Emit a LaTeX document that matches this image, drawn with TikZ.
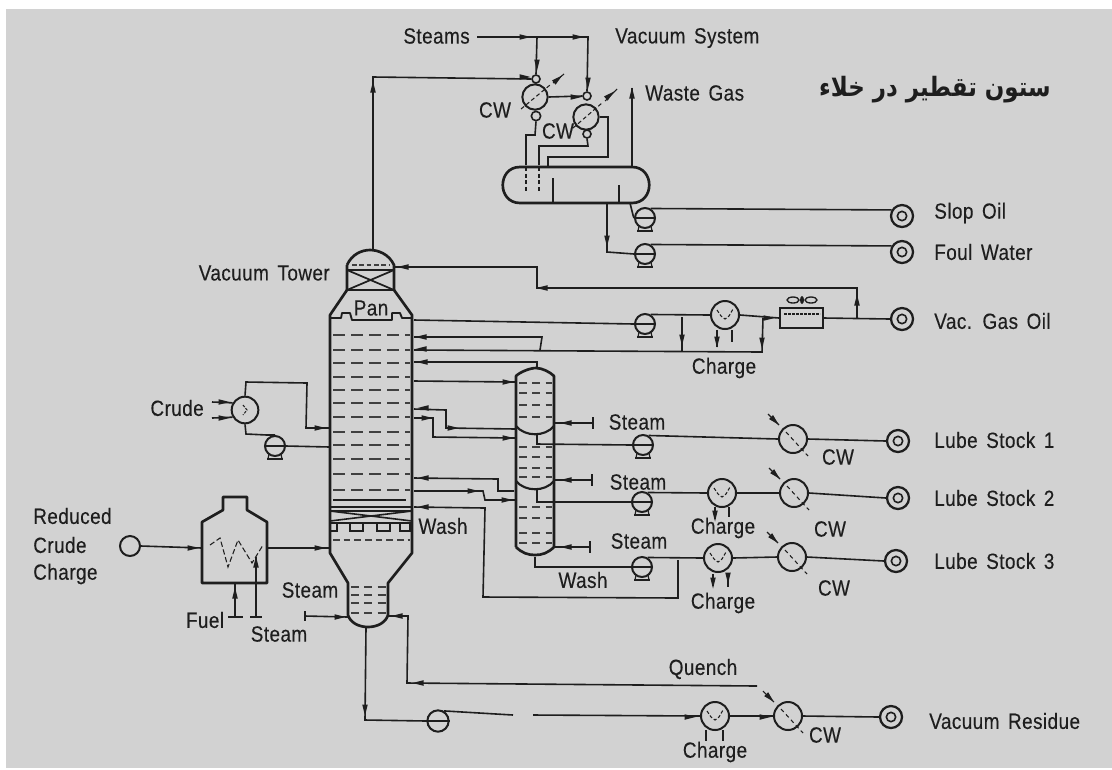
\documentclass[tikz,border=0pt]{standalone}
\usepackage{fontspec}
\setmainfont{Liberation Sans}[FakeStretch=.86,LetterSpace=2,WordSpace=1.5,FakeBold=.25]
\newfontfamily\arabicfont[Script=Arabic,FakeStretch=.86]{DejaVu Sans}
\TeXXeTstate=1
\usetikzlibrary{calc}
\definecolor{ink}{HTML}{1E1E1E}
\definecolor{paper}{HTML}{D2D2D2}
\tikzset{
 pipe/.style={draw=ink,line width=1.2pt},
 vessel/.style={draw=ink,line width=2pt,line join=round},
 tray/.style={draw=ink!85,line width=1.1pt,dash pattern=on 9pt off 4.5pt},
 lbl/.style={text=ink,font=\fontsize{16.5}{18}\selectfont,inner sep=0pt},
 pumpn/.style={circle,draw=ink,line width=1.5pt,minimum size=15pt,inner sep=0pt},
 hxn/.style={circle,draw=ink,line width=1.5pt,minimum size=21pt,inner sep=0pt},
 smalln/.style={circle,draw=ink,line width=1.2pt,minimum size=6pt,inner sep=0pt},
 tgt/.style={circle,draw=ink,line width=1.7pt,minimum size=16.5pt,inner sep=0pt},
 tgti/.style={circle,draw=ink,line width=1.2pt,minimum size=7pt,inner sep=0pt},
 ah/.pic={\fill[ink] (-5.5,-2.8)--(5.5,0)--(-5.5,2.8)--cycle;},
}
\newcommand\pump[3]{%
 \node[pumpn] (#1) at (#2,#3) {};
 \draw[ink,line width=1.7pt] (#1.west)--(#1.east);
 \draw[ink,line width=2pt] ($(#1.center)+(-8,13)$)--($(#1.center)+(8,13)$);
 \draw[ink,line width=.9pt] ($(#1.center)+(-6,8)$)--($(#1.center)+(-7,13)$) ($(#1.center)+(6,8)$)--($(#1.center)+(7,13)$);}
\newcommand\target[3]{%
 \node[tgt] (#1) at (#2,#3) {};
 \node[tgti] (#1i) at (#2,#3) {};}
\newcommand\cooler[3]{%
 \node[hxn] (#1) at (#2,#3) {};
 \draw[ink,line width=.8pt,dash pattern=on 3pt off 2.5pt] ($(#1.center)+(-7,-7)$)--($(#1.center)+(15,17)$);
 \draw[ink,line width=.8pt] ($(#1.center)+(-25,-25)$)--($(#1.center)+(-14,-14)$);
 \pic[rotate=-45] at ($(#1.center)+(-18,-18)$) {ah};}
\newcommand\heatex[3]{%
 \node[hxn] (#1) at (#2,#3) {};
 \draw[ink,line width=.8pt,dash pattern=on 2.5pt off 1.5pt] ($(#1.center)+(-8,-5)$)--++(4,6)--++(4,3)--++(4,-3)--++(4,-7);}
\begin{document}
\begin{tikzpicture}[x=.75pt,y=-.75pt]
\useasboundingbox (0,0) rectangle (1112,769);
\fill[white] (0,0) rectangle (1112,769);
\fill[paper] (6,9) rectangle (1112,768);

% --- main tower
\draw[vessel] (347,265) .. controls (352,254) and (362,250) .. (370,250) .. controls (378,250) and (389,254) .. (394,265) -- (394,290) (347,265) -- (347,290);
\draw[vessel] (347,270)--(394,270) (347,290)--(394,290);
\draw[vessel,line width=1.3pt] (347,270)--(394,290) (394,270)--(347,290);
\draw[tray,line width=.9pt,dash pattern=on 3.5pt off 2pt] (352,265)--(390,265);
\draw[vessel] (347,290)--(330,315)--(330,553)--(348,583)--(348,615) .. controls (350,622) and (358,627) .. (368,627) .. controls (378,627) and (386,622) .. (388,615)--(388,583)--(412,553)--(412,315)--(394,290);
\draw[vessel,line width=1.4pt] (330,318)--(341,318)--(342,313)--(350,313)--(352,320)--(392,320)--(392,313)--(400,313)--(402,318)--(412,318);
\foreach \y in {335,350,363,377,390,403,417,432,445,459,474,490}
  \draw[tray] (333,\y)--(410,\y);
\draw[pipe] (333,500)--(406,500);
\draw[vessel] (330,507)--(412,507) (330,523)--(412,523);
\draw[pipe] (330,511)--(412,511);
\draw[vessel,line width=1.2pt] (330,511)--(412,521) (412,511)--(330,521);
\foreach \a/\b in {330/337,350/363,377/390,400/410}
  \draw[ink,line width=.9pt] (\a,523) rectangle (\b,531);
\draw[tray,line width=.8pt,dash pattern=on 5pt off 3pt] (333,540)--(410,540);
\foreach \y in {587,595,603,613}
  \draw[tray,dash pattern=on 6pt off 4pt] (351,\y)--(386,\y);
\node[lbl] (pan) at (371,308) {Pan};
\node[lbl,anchor=east] (vt) at (330,273) {Vacuum Tower};

% --- stripper
\draw[vessel] (516,547)--(516,376) .. controls (520,372) and (530,368) .. (536,368) .. controls (542,368) and (550,372) .. (554,376) -- (554,547) .. controls (548,553) and (542,555) .. (535,555) .. controls (528,555) and (522,553) .. (516,547);
\draw[vessel,line width=1.6pt] (516,426) .. controls (525,437) and (545,437) .. (554,426);
\draw[vessel,line width=1.6pt] (516,481) .. controls (525,492) and (545,492) .. (554,481);
\foreach \y in {383,393,405,417,447,457,468,477,507,518,533,543}
  \draw[tray,dash pattern=on 6pt off 4pt] (519,\y)--(552,\y);

% --- drum and condensers
\draw[vessel] (520,167)--(632,167) .. controls (655,167) and (655,203) .. (632,203)--(520,203) .. controls (497,203) and (497,167) .. (520,167);
\draw[vessel,line width=1.4pt] (553,178)--(553,203) (619,185)--(619,203);
\node[hxn,minimum size=19pt] (c1) at (535,97) {};
\node[hxn,minimum size=19pt] (c2) at (586,117) {};
\node[smalln] (c1t) at (536,79) {};
\node[smalln] (c2t) at (587,96) {};
\node[smalln,minimum size=7pt] (c1b) at (536,116) {};
\node[smalln] (c2b) at (587,134) {};
\draw[ink,line width=.8pt,dash pattern=on 3pt off 2pt] (521,109)--(550,85) (573,128)--(602,103);
\draw[ink,line width=.8pt] (553,83)--(564,74) (605,101)--(617,89);
\pic[rotate=40] at (558,79) {ah};
\pic[rotate=40] at (610,95) {ah};
\node[lbl] (cwa) at (495,110) {CW};
\node[lbl] (cwb) at (558,131) {CW};
\node[lbl,anchor=east] (steams) at (470,36) {Steams};
\node[lbl,anchor=west] (vsys) at (615,38) {Vacuum System};
\node[lbl,anchor=west] (wg) at (645,93) {Waste Gas};
\coordinate (stl) at (477,37);
\draw[pipe] (stl)--(588,37)--(c2t.north);
\draw[pipe] (537,37)--(c1t.north);
\pic at (525,37) {ah}; \pic at (578,37) {ah};
\pic[rotate=270] at (537,65) {ah}; \pic[rotate=270] at (588,83) {ah};
\draw[pipe] (c1.east)--(c2t.west);
\pic at (576,97) {ah};
\draw[pipe] (c1b.south)--(535,135)--(526,135)--(526,165);
\draw[pipe,dash pattern=on 3pt off 2pt] (526,167)--(526,193);
\draw[pipe] (c2b.south)--(588,146)--(539,146)--(539,165);
\draw[pipe,dash pattern=on 3pt off 2pt] (539,167)--(539,191);
\draw[pipe] (c2.east)--(608,117)--(608,157)--(548,157)--(548,166);
\coordinate (wgt) at (632,88);
\draw[pipe] (632,166)--(wgt);
\pic[rotate=90] at (632,93) {ah};
\draw[pipe] (c1t.west)--(373,77)--(373,250);
\pic at (525,77) {ah}; \pic[rotate=90] at (373,87) {ah};

% --- overhead pumps and products
\pump{pa}{645}{218}
\pump{pb}{645}{254}
\target{slop}{902}{216}
\target{foul}{902}{252}
\target{vgo}{902}{319}
\target{lo}{898}{441}
\target{lt}{898}{498}
\target{lh}{896}{561}
\target{res}{891}{717}
\draw[pipe] (630,203)--(633,215)--(pa.west);
\draw[pipe] (607,203)--(607,252)--(pb.west);
\pic[rotate=270] at (607,241) {ah};
\draw[pipe] (pa.60)--(slop.150);
\draw[pipe] (pb.60)--(foul.150);
\node[lbl,anchor=west] (l1) at (934,213) {Slop Oil};
\node[lbl,anchor=west] (l2) at (934,252) {Foul Water};
\node[lbl,anchor=west] (l3) at (934,321) {Vac. Gas Oil};
\node[lbl,anchor=west] (l4) at (934,440) {Lube Stock 1};
\node[lbl,anchor=west] (l5) at (934,498) {Lube Stock 2};
\node[lbl,anchor=west] (l6) at (934,561) {Lube Stock 3};
\node[lbl,anchor=west] (l7) at (929,721) {Vacuum Residue};

% --- gas oil section
\pump{pc}{645}{324}
\heatex{hv}{725}{315}
\node[draw=ink,line width=1.7pt,minimum width=32pt,minimum height=15pt,inner sep=0pt] (fan) at (801.5,318) {};
\draw[ink,line width=.8pt,dash pattern=on 2pt off 1pt] (784,314)--(820,314);
\draw[ink,line width=1pt] (793,300) ellipse (6 and 3) (811,300) ellipse (6 and 3);
\fill[ink] (802,300) ellipse (2 and 4);
\draw[pipe] (414,320)--(pc.west);
\draw[pipe] (pc.60)--(hv.west);
\draw[pipe] (hv.east)--(fan.west);
\draw[pipe] (fan.east)--(vgo.west);
\pic at (769,318) {ah};
\draw[pipe] (682,317)--(682,351);
\pic[rotate=270] at (682,340) {ah};
\draw[pipe] (763,318)--(762,352)--(414,350);
\pic[rotate=270] at (762,343) {ah};
\draw[pipe] (540,350)--(542,337)--(414,337);
\pic[rotate=180] at (421,337) {ah}; \pic[rotate=180] at (421,349) {ah};
\draw[pipe] (857,318)--(857,288)--(537,288)--(537,267)--(394,267);
\pic[rotate=90] at (857,300) {ah};
\pic[rotate=180] at (542,288) {ah}; \pic[rotate=180] at (403,267) {ah};
\draw[pipe] (717,330)--(717,347) (732,330)--(732,342);
\pic[rotate=270] at (717,342) {ah};
\node[lbl] (ch0) at (724,368) {Charge};

% --- tower to stripper
\draw[pipe] (414,362)--(537,362)--(537,368);
\pic[rotate=180] at (422,362) {ah};
\draw[pipe] (414,381)--(516,382);
\pic at (508,382) {ah};
\draw[pipe] (414,409)--(446,410)--(446,428)--(516,429);
\pic[rotate=180] at (423,408) {ah}; \pic at (453,428) {ah};
\draw[pipe] (414,418)--(433,418)--(433,437)--(516,438);
\pic at (427,418) {ah}; \pic at (508,438) {ah};
\draw[pipe] (414,478)--(498,479)--(498,491)--(514,491);
\pic[rotate=180] at (423,478) {ah};
\draw[pipe] (414,491)--(483,491)--(485,500)--(516,500);
\pic at (473,491) {ah}; \pic at (507,500) {ah};

% --- stripping steam
\foreach \n/\y/\xe in {a/423/593,b/480/592,c/547/590}{
  \draw[pipe] (555,\y)--(\xe,\y);
  \draw[pipe] (\xe,\y-6)--(\xe,\y+6);
  \pic[rotate=180] at (566,\y) {ah};}
\node[lbl] (s1) at (637,422) {Steam};
\node[lbl] (s2) at (638,482) {Steam};
\node[lbl] (s3) at (639,541) {Steam};

% --- lube products
\pump{pd}{643}{445}
\pump{pe}{642}{502}
\pump{pf}{642}{567}
\heatex{he}{722}{493}
\heatex{hf}{718}{558}
\cooler{cd}{793}{439}
\cooler{ce}{794}{493}
\cooler{cf}{792}{557}
\draw[pipe] (537,435)--(537,444)--(pd.west);
\draw[pipe] (537,490)--(537,502)--(pe.west);
\draw[pipe] (535,557)--(535,567)--(pf.west);
\draw[pipe] (pd.60)--(cd.west);
\draw[pipe] (cd.east)--(lo.west);
\draw[pipe] (pe.60)--(he.west);
\draw[pipe] (he.east)--(ce.west);
\draw[pipe] (ce.east)--(lt.west);
\draw[pipe] (pf.60)--(hf.west);
\draw[pipe] (hf.east)--(cf.west);
\draw[pipe] (cf.east)--(lh.west);
\draw[pipe] (414,507)--(485,508)--(483,597)--(678,598)--(678,560);
\pic[rotate=180] at (423,507) {ah};
\node[lbl] (w1) at (443,526) {Wash};
\node[lbl] (w2) at (583,580) {Wash};
\foreach \x/\y/\t in {715/507/270,713/574/270}{
  \draw[pipe] (\x,\y)--(\x,\y+12);
  \pic[rotate=\t] at (\x,\y+9) {ah};}
\draw[pipe] (729,507)--(729,517);
\draw[pipe] (728,574)--(728,587);
\pic[rotate=270] at (728,578) {ah};
\node[lbl] (ch1) at (723,528) {Charge};
\node[lbl] (ch2) at (723,603) {Charge};
\node[lbl] (cwc) at (838,457) {CW};
\node[lbl] (cwd) at (830,529) {CW};
\node[lbl] (cwe) at (834,588) {CW};

% --- crude cooler
\node[hxn,minimum size=20pt] (hc) at (245,410) {};
\draw[ink,line width=.8pt,dash pattern=on 2pt off 1pt] (243,405)--(247,410)--(243,415);
\node[lbl,anchor=east] (crude) at (204,408) {Crude};
\coordinate (ci) at (212,402);
\coordinate (co) at (212,418);
\draw[pipe] (ci)--(hc.150); \draw[pipe] (co)--(hc.210);
\pic at (224,402) {ah}; \pic at (224,418) {ah};
\draw[pipe] (hc.north)--(246,382)--(307,383)--(306,428)--(330,428);
\pic at (320,428) {ah};
\pump{pg}{275}{446}
\draw[pipe] (hc.south)--(246,434)--(267,435)--(pg.north);
\draw[pipe] (pg.east)--(330,447);

% --- furnace
\draw[vessel] (202,583)--(202,522)--(223,510)--(223,497)--(247,497)--(247,510)--(267,522)--(267,583)--cycle;
\draw[ink,line width=.8pt,dash pattern=on 4pt off 2pt] (210,545)--(220,538)--(228,567)--(238,540)--(252,563)--(263,545);
\node[circle,draw=ink,line width=1.5pt,minimum size=15pt,inner sep=0pt] (feed) at (130,546) {};
\draw[pipe] (feed.east)--(202,548);
\pic at (193,548) {ah};
\draw[pipe] (267,548)--(330,548);
\pic at (320,548) {ah};
\coordinate (fu) at (235,617);
\coordinate (sf) at (256,617);
\draw[pipe] (fu)--(235,584);
\pic[rotate=90] at (235,593) {ah};
\draw[pipe] (228,617)--(243,617);
\draw[pipe] (sf)--(256,557);
\pic[rotate=90] at (256,562) {ah};
\draw[pipe] (250,617)--(262,617);
\node[lbl,anchor=west] (rc1) at (33,516) {Reduced};
\node[lbl,anchor=west] (rc2) at (33,545) {Crude};
\node[lbl,anchor=west] (rc3) at (33,574) {Charge};
\node[lbl] (ff) at (205,620) {Fuel};
\node[lbl] (sa) at (279,634) {Steam};
\node[lbl] (sb) at (310,590) {Steam};
\coordinate (sbt) at (305,616);
\draw[pipe] (sbt)--(348,617);
\draw[pipe] (305,611)--(305,621);
\pic at (340,617) {ah};

% --- bottoms
\node[circle,draw=ink,line width=1.5pt,minimum size=16pt,inner sep=0pt] (ph) at (438,721) {};
\draw[ink,line width=1.7pt] (ph.west)--(ph.east);
\heatex{hr}{715}{716}
\cooler{cr}{788}{716}
\coordinate (g1) at (513,715);
\coordinate (g2) at (533,715);
\coordinate (qe) at (757,686);
\draw[pipe] (366,627)--(365,720)--(ph.west);
\pic[rotate=270] at (365,710) {ah};
\draw[pipe] (ph.60)--(g1);
\draw[pipe] (g2)--(hr.west);
\pic at (690,717) {ah};
\draw[pipe] (hr.east)--(cr.west);
\pic at (765,717) {ah};
\draw[pipe] (cr.east)--(res.west);
\draw[pipe] (qe)--(407,683)--(408,616)--(388,616);
\pic[rotate=180] at (418,683) {ah}; \pic[rotate=180] at (397,616) {ah};
\draw[pipe,line width=1.8pt] (706,730)--(706,741) (723,730)--(723,741);
\node[lbl] (qn) at (703,669) {Quench};
\node[lbl] (ch3) at (715,752) {Charge};
\node[lbl] (cwf) at (825,735) {CW};

\node[font=\fontsize{20}{24}\selectfont\bfseries\arabicfont,text=ink,inner sep=0pt] (fa) at (935,90) {\beginR ستون تقطیر در خلاء\endR};
\end{tikzpicture}
\end{document}
